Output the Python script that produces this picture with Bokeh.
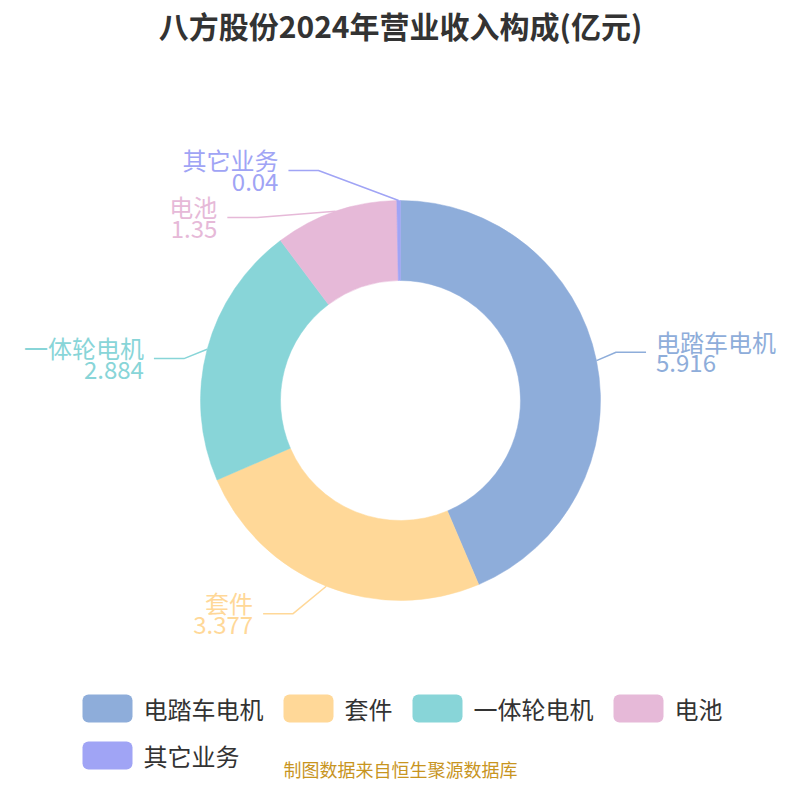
import math
from bokeh.plotting import figure
from bokeh.models import Range1d
from bokeh.core.properties import value
from bokeh.embed import file_html
from bokeh.resources import INLINE

# ---------------- data ----------------
title_text = "八方股份2024年营业收入构成(亿元)"
source_text = "制图数据来自恒生聚源数据库"
categories = ["电踏车电机", "套件", "一体轮电机", "电池", "其它业务"]
values = [5.916, 3.377, 2.884, 1.35, 0.04]
value_labels = ["5.916", "3.377", "2.884", "1.35", "0.04"]
colors = ["#8EADDA", "#FFD898", "#88D5D8", "#E6B9D8", "#A0A4F5"]

# ---------------- layout / style ----------------
W = H = 784
FONT = "Noto Sans CJK SC"
CX, CY = 400, 400          # page-pixel centre of donut
R_IN, R_OUT = 120, 200
ELBOW_R = 222
SEG2 = 30
TEXT_GAP = 10
# label-collision adjustments of leader elbows (page px, y downward)
elbow_shift = [(-2, -4), (-25, 7), (-2, 15), (-71, 27), (-80, -8)]


def Y(py):
    """page pixel y (downward) -> data y (upward)"""
    return H - py


p = figure(width=W, height=H, output_backend="svg", toolbar_location=None,
           x_range=Range1d(0, W), y_range=Range1d(0, H),
           min_border=0, outline_line_color=None, background_fill_color="white",
           border_fill_color="white")
p.axis.visible = False
p.xgrid.visible = False
p.ygrid.visible = False

total = sum(values)
cum = 0.0
for i, v in enumerate(values):
    a0 = math.pi / 2 - 2 * math.pi * cum / total
    a1 = math.pi / 2 - 2 * math.pi * (cum + v) / total
    p.annular_wedge(x=CX, y=Y(CY), inner_radius=R_IN, outer_radius=R_OUT,
                    start_angle=a0, end_angle=a1, direction="clock",
                    fill_color=colors[i], line_color=colors[i], line_width=0.5)
    mid = (a0 + a1) / 2
    sx = CX + R_OUT * math.cos(mid)
    sy = CY - R_OUT * math.sin(mid)
    ex = CX + ELBOW_R * math.cos(mid) + elbow_shift[i][0]
    ey = CY - ELBOW_R * math.sin(mid) + elbow_shift[i][1]
    right = math.cos(mid) > 0
    hx = ex + SEG2 if right else ex - SEG2
    p.line(x=[sx, ex, hx], y=[Y(sy), Y(ey), Y(ey)], line_color=colors[i], line_width=1.5)
    tx = hx + TEXT_GAP if right else hx - TEXT_GAP
    align = "left" if right else "right"
    p.text(x=[tx], y=[Y(ey - 11)], text=[categories[i]], text_align=align,
           text_baseline="middle", text_font=value(FONT), text_font_size="24px",
           text_color=colors[i])
    p.text(x=[tx], y=[Y(ey + 11)], text=[value_labels[i]], text_align=align,
           text_baseline="middle", text_font=value(FONT), text_font_size="24px",
           text_color=colors[i])
    cum += v

# title
p.text(x=[400], y=[Y(24)], text=[title_text], text_align="center", text_baseline="middle",
       text_font=value(FONT), text_font_size="30px", text_font_style="bold",
       text_color="#333333")

# legend (manual, wrapping rows)
LEG_X0, LEG_XMAX = 82, 730
LEG_ROW_Y = [708, 755]
RECT_W, RECT_H = 50, 28
ADV = 24
x = LEG_X0
row = 0
for i, c in enumerate(categories):
    item_w = RECT_W + 11 + ADV * len(c)
    if x + item_w > LEG_XMAX:
        row += 1
        x = LEG_X0
    ry = Y(LEG_ROW_Y[row])
    try:
        p.rect(x=[x + RECT_W / 2], y=[ry], width=RECT_W, height=RECT_H,
               fill_color=colors[i], line_color=None, border_radius=6)
    except Exception:
        p.rect(x=[x + RECT_W / 2], y=[ry], width=RECT_W, height=RECT_H,
               fill_color=colors[i], line_color=None)
    p.text(x=[x + RECT_W + 11], y=[ry], text=[c], text_align="left", text_baseline="middle",
           text_font=value(FONT), text_font_size="24px", text_color="#333333")
    x += item_w + 20

# source
p.text(x=[400], y=[Y(768)], text=[source_text], text_align="center", text_baseline="middle",
       text_font=value(FONT), text_font_size="18px", text_color="#C8951F")

open("out.html", "w").write(file_html(p, INLINE))
